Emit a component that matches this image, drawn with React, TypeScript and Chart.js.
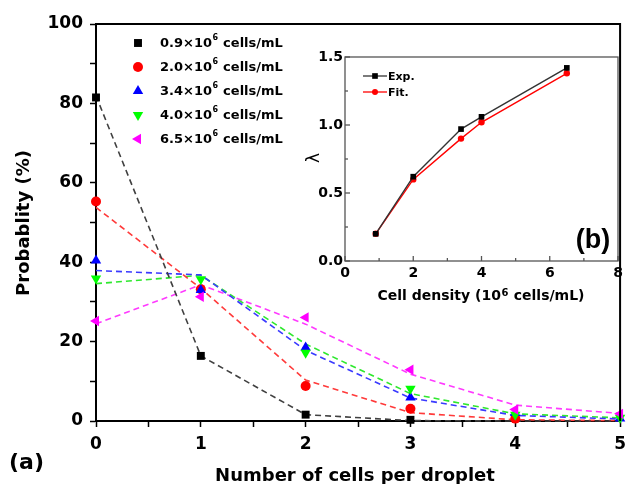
import React, { useEffect, useRef } from "react";
import { Chart, registerables } from "chart.js";
Chart.register(...registerables);

// ---- main panel (a) data ----
const cellsPerDroplet = [0, 1, 2, 3, 4, 5];
const seriesLabels = ["0.9", "2.0", "3.4", "4.0", "6.5"];
const measured09 = [81.5, 16.4, 1.6, 0.3, null, null];
const measured20 = [55.3, 33.2, 8.8, 3.1, 0.6, null];
const measured34 = [40.4, 33.0, 18.5, 5.9, 2.0, 0.6];
const measured40 = [35.9, 35.7, 17.2, 8.1, 1.6, 0.8];
const measured65 = [25.2, 31.3, 26.1, 12.9, 2.9, 1.8];
const poisson09 = [81.9, 16.4, 1.6, 0.1, 0.0, 0.0];
const poisson20 = [53.8, 33.4, 10.3, 2.1, 0.3, 0.1];
const poisson34 = [37.9, 36.8, 17.8, 5.8, 1.4, 0.5];
const poisson40 = [34.6, 36.7, 19.4, 6.9, 1.8, 0.8];
const poisson65 = [24.5, 34.3, 24.4, 11.8, 4.0, 1.9];

// ---- inset panel (b) data ----
const cellDensity = [0.9, 2.0, 3.4, 4.0, 6.5];
const lambdaExp = [0.2, 0.62, 0.97, 1.06, 1.42];
const lambdaFit = [0.2, 0.6, 0.9, 1.02, 1.38];

const measured = [measured09, measured20, measured34, measured40, measured65];
const poisson = [poisson09, poisson20, poisson34, poisson40, poisson65];
const markerColors = ["#000000", "#ff0000", "#0000ff", "#00ff00", "#ff00ff"];
const lineColors = ["#404040", "#ff3a3a", "#3a3aff", "#2ee82e", "#ff3aff"];
const markerStyles = ["rect", "circle", "triangle", "triangle", "triangle"];
const markerRot = [0, 0, 0, 180, 270];
const markerRadius = [5.6, 5, 6, 6, 6];

const FONT = "DejaVu Sans";

function drawMarker(ctx: CanvasRenderingContext2D, style: string, rot: number, x: number, y: number, r: number, color: string) {
  ctx.save();
  ctx.fillStyle = color;
  ctx.translate(x, y);
  ctx.rotate((rot * Math.PI) / 180);
  ctx.beginPath();
  if (style === "rect") {
    const s = r * Math.SQRT1_2;
    ctx.rect(-s, -s, 2 * s, 2 * s);
  } else if (style === "circle") {
    ctx.arc(0, 0, r, 0, Math.PI * 2);
  } else {
    ctx.moveTo(0, -r);
    ctx.lineTo(r * 0.866, r * 0.5);
    ctx.lineTo(-r * 0.866, r * 0.5);
    ctx.closePath();
  }
  ctx.fill();
  ctx.restore();
}

const mainPlugin = {
  id: "mainDecor",
  afterDraw(chart: any) {
    const { ctx, chartArea } = chart;
    const { left, right, top, bottom } = chartArea;
    ctx.save();
    ctx.strokeStyle = "#000";
    ctx.lineWidth = 2;
    ctx.beginPath();
    ctx.moveTo(left, top);
    ctx.lineTo(right, top);
    ctx.lineTo(right, bottom);
    ctx.stroke();

    // legend
    const rows = [43, 67, 91, 115, 139];
    seriesLabels.forEach((lab, i) => {
      const y = rows[i];
      drawMarker(ctx, markerStyles[i], markerRot[i], 138, y, markerRadius[i], markerColors[i]);
      ctx.fillStyle = "#000";
      ctx.textBaseline = "middle";
      ctx.textAlign = "left";
      ctx.font = `bold 13px ${FONT}`;
      const a = `${lab}×10`;
      ctx.fillText(a, 160, y + 1);
      let x = 160 + ctx.measureText(a).width;
      ctx.font = `bold 8px ${FONT}`;
      ctx.fillText("6", x + 0.5, y - 5);
      x += ctx.measureText("6").width + 1;
      ctx.font = `bold 13px ${FONT}`;
      ctx.fillText(" cells/mL", x, y + 1);
    });

    // axis titles
    ctx.fillStyle = "#000";
    ctx.font = `bold 18px ${FONT}`;
    ctx.textAlign = "center";
    ctx.textBaseline = "alphabetic";
    ctx.fillText("Number of cells per droplet", 355, 481);
    ctx.save();
    ctx.translate(29, 223);
    ctx.rotate(-Math.PI / 2);
    ctx.textBaseline = "alphabetic";
    ctx.fillText("Probablity (%)", 0, 0);
    ctx.restore();
    ctx.font = `bold 22px ${FONT}`;
    ctx.textAlign = "left";
    ctx.textBaseline = "middle";
    ctx.fillText("(a)", 9, 463);
    ctx.restore();
  },
};

const insetPlugin = {
  id: "insetDecor",
  afterDraw(chart: any) {
    const { ctx, chartArea, scales } = chart;
    const { left, right, top, bottom } = chartArea;
    ctx.save();
    ctx.strokeStyle = "#555";
    ctx.lineWidth = 1.3;
    ctx.strokeRect(left, top, right - left, bottom - top);
    // inward ticks
    const xs = scales.x, ys = scales.y;
    for (let v = 0; v <= 8; v += 1) {
      const px = xs.getPixelForValue(v);
      const len = v % 2 === 0 ? 5 : 3;
      ctx.beginPath();
      ctx.moveTo(px, bottom);
      ctx.lineTo(px, bottom - len);
      ctx.stroke();
    }
    for (let v = 0; v <= 1.5001; v += 0.25) {
      const py = ys.getPixelForValue(v);
      const major = Math.abs(v * 2 - Math.round(v * 2)) < 1e-6;
      ctx.beginPath();
      ctx.moveTo(left, py);
      ctx.lineTo(left + (major ? 5 : 3), py);
      ctx.stroke();
    }
    // legend
    const leg = [
      { t: "Exp.", c: "#000", s: "rect", y: 46 },
      { t: "Fit.", c: "#ff0000", s: "circle", y: 62 },
    ];
    leg.forEach((l) => {
      ctx.strokeStyle = l.c === "#000" ? "#333" : "#ff0000";
      ctx.lineWidth = 1.3;
      ctx.beginPath();
      ctx.moveTo(73, l.y);
      ctx.lineTo(97, l.y);
      ctx.stroke();
      drawMarker(ctx, l.s, 0, 85, l.y, l.s === "rect" ? 4 : 3, l.c);
      ctx.fillStyle = "#000";
      ctx.font = `bold 11px ${FONT}`;
      ctx.textAlign = "left";
      ctx.textBaseline = "middle";
      ctx.fillText(l.t, 98, l.y + 1);
    });
    // titles
    ctx.fillStyle = "#000";
    ctx.save();
    ctx.translate(25, 128);
    ctx.rotate(-Math.PI / 2);
    ctx.font = `17px ${FONT}`;
    ctx.textAlign = "center";
    ctx.textBaseline = "middle";
    ctx.fillText("λ", 0, 0);
    ctx.restore();

    ctx.textBaseline = "middle";
    ctx.textAlign = "left";
    const p1 = "Cell density (10";
    const p2 = "6";
    const p3 = " cells/mL)";
    ctx.font = `bold 14px ${FONT}`;
    const w1 = ctx.measureText(p1).width;
    const w3 = ctx.measureText(p3).width;
    ctx.font = `bold 10px ${FONT}`;
    const w2 = ctx.measureText(p2).width + 1;
    let x = 191 - (w1 + w2 + w3) / 2;
    const y = 266;
    ctx.font = `bold 14px ${FONT}`;
    ctx.fillText(p1, x, y);
    x += w1;
    ctx.font = `bold 10px ${FONT}`;
    ctx.fillText(p2, x + 0.5, y - 3);
    x += w2;
    ctx.font = `bold 14px ${FONT}`;
    ctx.fillText(p3, x, y);

    ctx.font = `bold 27px "Liberation Sans"`;
    ctx.textAlign = "center";
    ctx.fillText("(b)", 303, 211);
    ctx.restore();
  },
};

export default function App() {
  const mainRef = useRef<HTMLCanvasElement>(null);
  const insetRef = useRef<HTMLCanvasElement>(null);

  useEffect(() => {
    const datasets: any[] = [];
    measured.forEach((vals, i) => {
      datasets.push({
        label: `m${i}`,
        data: cellsPerDroplet.map((x, k) => ({ x, y: vals[k] })).filter((p) => p.y !== null),
        showLine: false,
        pointStyle: markerStyles[i],
        rotation: markerRot[i],
        pointRadius: markerRadius[i],
        pointBackgroundColor: markerColors[i],
        pointBorderWidth: 0,
        pointBorderColor: markerColors[i],
        clip: false,
        order: -i,
      });
    });
    poisson.forEach((vals, i) => {
      datasets.push({
        label: `p${i}`,
        data: cellsPerDroplet.map((x, k) => ({ x, y: vals[k] })),
        showLine: true,
        pointRadius: 0,
        borderColor: lineColors[i],
        borderWidth: 1.6,
        borderDash: [6, 4],
        clip: false,
        order: 10,
      });
    });
    const tickFont = { family: FONT, weight: "bold" as const, size: 17 };
    const main = new Chart(mainRef.current!, {
      type: "scatter",
      data: { datasets },
      options: {
        animation: false,
        responsive: false,
        devicePixelRatio: 1,
        layout: { padding: { left: 0, top: 24, right: 7, bottom: 0 } },
        plugins: { legend: { display: false }, tooltip: { enabled: false } },
        scales: {
          x: {
            type: "linear",
            min: 0,
            max: 5,
            afterFit: (s: any) => { s.height = 63; },
            ticks: {
              stepSize: 0.5,
              autoSkip: false,
              maxRotation: 0,
              color: "#000",
              font: tickFont,
              padding: 7,
              callback: (v: any) => (Number.isInteger(v) ? String(v) : ""),
            },
            grid: { drawOnChartArea: false, tickLength: 6, tickColor: "#000", tickWidth: 1.5 },
            border: { color: "#000", width: 2 },
          },
          y: {
            type: "linear",
            min: 0,
            max: 100,
            afterFit: (s: any) => { s.width = 96; },
            ticks: {
              stepSize: 10,
              autoSkip: false,
              color: "#000",
              font: tickFont,
              padding: 7,
              callback: (v: any) => (v % 20 === 0 ? String(v) : ""),
            },
            grid: { drawOnChartArea: false, tickLength: 6, tickColor: "#000", tickWidth: 1.5 },
            border: { color: "#000", width: 2 },
          },
        },
      },
      plugins: [mainPlugin],
    });

    const inset = new Chart(insetRef.current!, {
      type: "scatter",
      data: {
        datasets: [
          {
            label: "Exp.",
            data: cellDensity.map((x, k) => ({ x, y: lambdaExp[k] })),
            showLine: true,
            borderColor: "#333",
            borderWidth: 1.4,
            pointStyle: "rect",
            pointRadius: 4,
            pointBackgroundColor: "#000",
            pointBorderWidth: 0,
            clip: false,
          },
          {
            label: "Fit.",
            data: cellDensity.map((x, k) => ({ x, y: lambdaFit[k] })),
            showLine: true,
            borderColor: "#ff0000",
            borderWidth: 1.4,
            pointStyle: "circle",
            pointRadius: 3.2,
            pointBackgroundColor: "#ff0000",
            pointBorderWidth: 0,
            clip: false,
          },
        ],
      },
      options: {
        animation: false,
        responsive: false,
        devicePixelRatio: 1,
        layout: { padding: { left: 0, top: 27, right: 12, bottom: 0 } },
        plugins: { legend: { display: false }, tooltip: { enabled: false } },
        scales: {
          x: {
            type: "linear",
            min: 0,
            max: 8,
            afterFit: (s: any) => { s.height = 49; },
            ticks: { stepSize: 2, color: "#000", font: { family: FONT, weight: "bold", size: 14 }, padding: 4, maxRotation: 0 },
            grid: { display: false, drawTicks: false },
            border: { display: false },
          },
          y: {
            type: "linear",
            min: 0,
            max: 1.5,
            afterFit: (s: any) => { s.width = 55; },
            ticks: {
              stepSize: 0.5,
              color: "#000",
              font: { family: FONT, weight: "bold", size: 14 },
              padding: 2,
              callback: (v: any) => Number(v).toFixed(1),
            },
            grid: { display: false, drawTicks: false },
            border: { display: false },
          },
        },
      },
      plugins: [insetPlugin],
    });

    return () => {
      main.destroy();
      inset.destroy();
    };
  }, []);

  return (
    <div style={{ position: "absolute", left: 0, top: 0, width: 633, height: 484, background: "#fff", overflow: "hidden" }}>
      <canvas ref={mainRef} width={633} height={484} style={{ position: "absolute", left: 0, top: 0, width: 633, height: 484 }} />
      <canvas ref={insetRef} width={340} height={280} style={{ position: "absolute", left: 290, top: 30, width: 340, height: 280 }} />
    </div>
  );
}
